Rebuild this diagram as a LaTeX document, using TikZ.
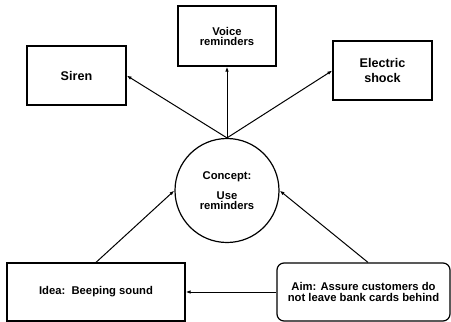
\documentclass[tikz,border=0pt]{standalone}
\usepackage{fontspec}
\setmainfont{Liberation Sans}
\usetikzlibrary{arrows.meta}
\begin{document}
\begin{tikzpicture}[x=1pt,y=-1pt,
  box/.style={draw, line width=1.2pt, inner sep=0pt, align=center, font=\bfseries\fontsize{11.25}{11.7}\selectfont},
  big/.style={font=\bfseries\fontsize{12.6}{14.3}\selectfont},
  tight/.style={font=\bfseries\fontsize{11.25}{10}\selectfont},
  arr/.style={-{Latex[length=5pt,width=3.5pt]}, line width=1pt}]
\useasboundingbox (0,0) rectangle (451,322);
\node[box, big, minimum width=99pt, minimum height=59pt] (siren) at (76.5,75.5) {Siren};
\node[box, tight, minimum width=98pt, minimum height=60pt] (voice) at (227,36) {Voice\\reminders};
\node[box, big, minimum width=99pt, minimum height=59pt] (shock) at (382.5,70.5) {Electric\\shock};
\node[box, tight, circle, minimum size=104pt] (concept) at (227,190.5) {Concept:\\[9.5pt]Use\\reminders};
\node[box, minimum width=178pt, minimum height=58pt] (idea) at (96,292) {Idea:\ \ Beeping sound};
\node[box, rounded corners=7pt, minimum width=173pt, minimum height=58pt] (aim) at (363.5,292) {Aim: Assure customers do\\not leave bank cards behind};
\draw[arr] (concept.north) -- (siren.east);
\draw[arr] (concept.north) -- (voice.south);
\draw[arr] (concept.north) -- (shock.west);
\draw[arr] (idea.north) -- (concept.west);
\draw[arr] ([xshift=4.5pt]aim.north) -- (concept.east);
\draw[arr] (aim.west) -- (idea.east);
\end{tikzpicture}
\end{document}
